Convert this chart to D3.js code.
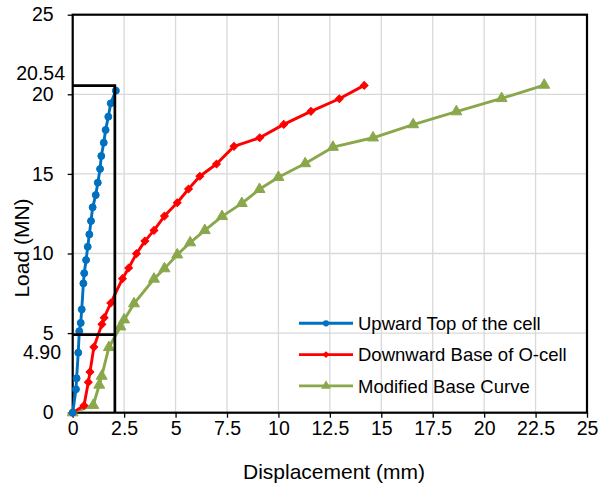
<!DOCTYPE html>
<html>
<head>
<meta charset="utf-8">
<script src="https://cdn.jsdelivr.net/npm/d3@7"></script>
<style>
  body { margin: 0; background: #fff; }
  svg { display: block; font-family: "Liberation Sans", Arial, sans-serif; }
</style>
</head>
<body>
<svg id="container"></svg>
<script>
// Tick labels
const xTicks = [0, 2.5, 5, 7.5, 10, 12.5, 15, 17.5, 20, 22.5, 25];
const yTicks = [0, 5, 10, 15, 20, 25];

// Upward Top of the cell
const upX = [0, 0.16, 0.19, 0.27, 0.32, 0.39, 0.44, 0.52, 0.56, 0.65, 0.73, 0.81, 0.89, 0.97, 1.12, 1.22, 1.33, 1.39, 1.51, 1.60, 1.73, 1.85, 2.10];
const upY = [0, 1.47, 2.16, 3.77, 5.12, 5.64, 6.49, 8.12, 8.76, 9.59, 10.42, 11.2, 12.04, 12.9, 13.67, 14.45, 15.31, 16.12, 16.96, 17.76, 18.59, 19.43, 20.23];

// Downward Base of O-cell
const downX = [0, 0.55, 0.76, 0.84, 1.03, 1.42, 1.53, 1.85, 2.42, 2.72, 3.10, 3.51, 3.95, 4.46, 5.08, 5.63, 6.18, 6.99, 7.84, 9.09, 10.26, 11.58, 12.96, 14.17];
const downY = [0, 0.45, 1.92, 2.56, 4.12, 5.55, 5.97, 6.89, 8.42, 9.09, 9.99, 10.78, 11.45, 12.35, 13.19, 14.05, 14.85, 15.62, 16.73, 17.27, 18.11, 18.93, 19.72, 20.56];

// Modified Base Curve
const modX = [0, 1.0, 1.29, 1.41, 1.76, 2.32, 2.50, 2.98, 3.95, 4.46, 5.08, 5.71, 6.42, 7.26, 8.22, 9.08, 10.0, 11.3, 12.65, 14.6, 16.55, 18.65, 20.85, 22.92];
const modY = [0, 0.47, 1.74, 2.3, 4.1, 5.4, 5.84, 6.85, 8.40, 9.05, 9.92, 10.68, 11.45, 12.33, 13.15, 14.03, 14.79, 15.65, 16.68, 17.27, 18.10, 18.91, 19.74, 20.58];

// Marked box (displacement and loads)
const boxX = 2.05;
const boxLoads = [20.54, 4.90];
const boxLabels = ["20.54", "4.90"];

const seriesNames = ["Upward Top of the cell", "Downward Base of O-cell", "Modified Base Curve"];

let width = 609, height = 489;
var margin = {top: 14.7, right: 22, bottom: 76.3, left: 72.7};

let svg = d3.select("#container")
    .attr("width", width)
    .attr("height", height);

const xScale = d3.scaleLinear().domain([0, 25]).range([margin.left, width - margin.right]);
const yScale = d3.scaleLinear().domain([0, 25]).range([height - margin.bottom, margin.top]);

// gridlines
svg.append("g")
    .selectAll("line")
    .data(xTicks.slice(1, -1))
    .enter()
    .append("line")
        .attr("x1", d => xScale(d)).attr("x2", d => xScale(d))
        .attr("y1", yScale(0)).attr("y2", yScale(25))
        .attr("stroke", "#d9d9d9")
        .attr("stroke-width", 1.3);
svg.append("g")
    .selectAll("line")
    .data(yTicks.slice(1, -1))
    .enter()
    .append("line")
        .attr("x1", xScale(0)).attr("x2", xScale(25))
        .attr("y1", d => yScale(d)).attr("y2", d => yScale(d))
        .attr("stroke", "#d9d9d9")
        .attr("stroke-width", 1.3);

// axes
let xAxis = svg.append("g")
    .attr("transform", "translate(0," + yScale(0) + ")")
    .call(d3.axisBottom(xScale).tickValues(xTicks).tickFormat(d => d).tickSize(5).tickPadding(3.5));
let yAxis = svg.append("g")
    .attr("transform", "translate(" + xScale(0) + ",0)")
    .call(d3.axisLeft(yScale).tickValues(yTicks).tickFormat(d => d).tickSize(5).tickPadding(14));
[xAxis, yAxis].forEach(a => {
    a.select(".domain").remove();
    a.selectAll("line").attr("stroke", "#000").attr("stroke-width", 1.3);
    a.selectAll("text").style("font-size", "19.5px").style("font-family", "Liberation Sans, Arial, sans-serif").attr("fill", "#000");
});

// plot border
svg.append("rect")
    .attr("x", xScale(0))
    .attr("y", yScale(25))
    .attr("width", xScale(25) - xScale(0))
    .attr("height", yScale(0) - yScale(25))
    .attr("fill", "none")
    .attr("stroke", "#000")
    .attr("stroke-width", 2.2);

// series
const series = [
    {name: seriesNames[0], xs: upX, ys: upY, color: "#0070C0", symbol: d3.symbolCircle, size: 38, rot: 0},
    {name: seriesNames[1], xs: downX, ys: downY, color: "#FF0000", symbol: d3.symbolSquare, size: 30, rot: 45},
    {name: seriesNames[2], xs: modX, ys: modY, color: "#8AA84B", symbol: d3.symbolTriangle, size: 52, rot: 0}
];

const line = d3.line().x(d => xScale(d[0])).y(d => yScale(d[1]));

series.slice().reverse().forEach(s => {
    let pts = s.xs.map((x, i) => [x, s.ys[i]]);
    svg.append("path")
        .datum(pts)
        .attr("d", line)
        .attr("fill", "none")
        .attr("stroke", s.color)
        .attr("stroke-width", 2.9)
        .attr("stroke-linejoin", "round");
    svg.append("g")
        .selectAll("path")
        .data(pts)
        .enter()
        .append("path")
            .attr("d", d3.symbol().type(s.symbol).size(s.size))
            .attr("transform", d => "translate(" + xScale(d[0]) + "," + yScale(d[1]) + ") rotate(" + s.rot + ")")
            .attr("fill", s.color)
            .attr("stroke", s.color)
            .attr("stroke-width", 1);
});

// black box marking the 2 mm displacement
svg.append("path")
    .attr("d", "M" + xScale(0) + "," + yScale(boxLoads[0]) +
               "H" + xScale(boxX) + "V" + yScale(0) +
               "M" + xScale(0) + "," + yScale(boxLoads[1]) + "H" + xScale(boxX))
    .attr("fill", "none")
    .attr("stroke", "#000")
    .attr("stroke-width", 2.7);

svg.append("g")
    .selectAll("text")
    .data(boxLoads)
    .enter()
    .append("text")
        .attr("x", (d, i) => i == 0 ? 65 : 61)
        .attr("y", (d, i) => i == 0 ? yScale(d) - 5.5 : yScale(d) + 24.5)
        .attr("text-anchor", "end")
        .style("font-size", "19.5px")
        .text((d, i) => boxLabels[i]);

// axis titles
svg.append("text")
    .attr("x", 334)
    .attr("y", 479)
    .attr("text-anchor", "middle")
    .style("font-size", "21px")
    .text("Displacement (mm)");
svg.append("text")
    .attr("transform", "translate(29,248) rotate(-90)")
    .attr("text-anchor", "middle")
    .style("font-size", "21px")
    .text("Load (MN)");

// legend
let legend = svg.append("g");
series.forEach((s, i) => {
    let ly = 323.3 + i * 31.3;
    legend.append("line")
        .attr("x1", 299).attr("x2", 353)
        .attr("y1", ly).attr("y2", ly)
        .attr("stroke", s.color)
        .attr("stroke-width", 2.9);
    legend.append("path")
        .attr("d", d3.symbol().type(s.symbol).size(s.size * 0.8))
        .attr("transform", "translate(326," + ly + ") rotate(" + s.rot + ")")
        .attr("fill", s.color);
    legend.append("text")
        .attr("x", 358)
        .attr("y", ly)
        .attr("dy", "0.36em")
        .style("font-size", "18.5px")
        .text(s.name);
});
</script>
</body>
</html>
